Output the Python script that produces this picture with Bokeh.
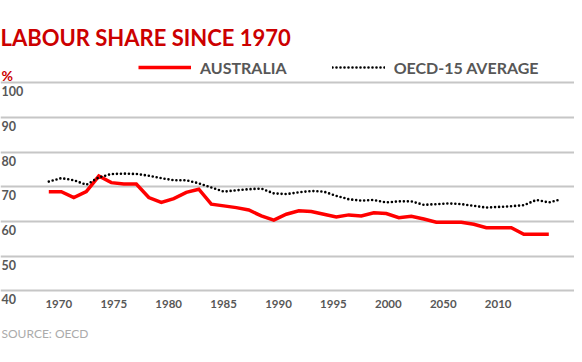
import numpy as np
from bokeh.plotting import figure
from bokeh.models import (ColumnDataSource, Label, LabelSet, Legend, LegendItem,
                          FixedTicker, Range1d, Grid)
from bokeh.core.properties import value
from bokeh.embed import file_html
from bokeh.resources import INLINE

# ---------------- data ----------------
title_text = "LABOUR SHARE SINCE 1970"
unit_text = "%"
source_text = "SOURCE: OECD"
series_names = ["AUSTRALIA", "OECD-15 AVERAGE"]

aus_years = list(range(1970, 2011))
australia = [68.6, 68.6, 66.9, 68.6, 73.1, 71.2, 70.8, 70.8, 66.9, 65.5,
             66.6, 68.4, 69.3, 65.0, 64.5, 64.0, 63.3, 61.6, 60.4, 62.1,
             63.1, 62.9, 62.1, 61.3, 61.9, 61.6, 62.5, 62.3, 61.1, 61.5,
             60.7, 59.8, 59.8, 59.8, 59.2, 58.2, 58.2, 58.2, 56.3, 56.3,
             56.3]

oecd_years = list(range(1970, 2012))
oecd15 = [71.5, 72.5, 71.9, 70.6, 72.7, 73.7, 73.8, 73.7, 73.2, 72.5,
          71.9, 71.9, 71.0, 69.8, 68.6, 69.0, 69.3, 69.5, 68.1, 67.9,
          68.4, 68.8, 68.6, 67.4, 66.4, 66.0, 66.2, 65.5, 65.8, 65.8,
          64.8, 65.0, 65.2, 65.0, 64.5, 64.0, 64.2, 64.4, 64.7, 66.2,
          65.5, 66.4]

y_ticks = [100, 90, 80, 70, 60, 50, 40]
x_tick_labels = ["1970", "1975", "1980", "1985", "1990", "1995", "2000", "2050", "2010"]

# ---------------- layout ----------------
W, H = 574, 354
FONT = "Lato"
RED_TEXT = "#cc0000"
GREY_TEXT = "#575757"

p = figure(width=W, height=H, output_backend="svg", toolbar_location=None,
           x_range=Range1d(1966.136, 2012.056), y_range=Range1d(21.63, 123.74),
           min_border=0, x_axis_type=None, y_axis_type=None)
p.outline_line_color = None
p.background_fill_color = "white"
p.border_fill_color = "white"

p.add_layout(Grid(dimension=1, ticker=FixedTicker(ticks=y_ticks),
                  grid_line_color="#c6c6c6", grid_line_width=2))

r_aus = p.line(aus_years, australia, line_color="#ff0000", line_width=3.5,
               line_join="miter")
r_oecd = p.line(oecd_years, oecd15, line_color="black", line_width=2.6,
                line_dash="0 4", line_cap="round")

# y tick labels (below their gridlines)
ysrc = ColumnDataSource(dict(y=y_ticks, text=[str(t) for t in y_ticks]))
p.add_layout(LabelSet(x=1, y="y", x_units="screen", text="text", source=ysrc,
                      y_offset=-13.5, text_font=value(FONT), text_font_style="bold",
                      text_font_size="12.5px", text_color=GREY_TEXT,
                      text_baseline="alphabetic", text_align="left"))

# x tick labels (evenly spaced under the bottom rule)
x_first = 1970 + 10 / 12.5
x_last = 1970 + 449.4 / 12.5
xsrc = ColumnDataSource(dict(x=np.linspace(x_first, x_last, len(x_tick_labels)),
                             text=x_tick_labels))
p.add_layout(LabelSet(x="x", y=y_ticks[-1], text="text", source=xsrc,
                      y_offset=-17, text_font=value(FONT), text_font_style="bold",
                      text_font_size="11.5px", text_color=GREY_TEXT,
                      text_baseline="alphabetic", text_align="center"))

# title, unit, source
p.add_layout(Label(x=0, y=H - 37.3, x_units="screen", y_units="screen",
                   text=title_text, text_font=FONT, text_font_style="bold",
                   text_font_size="22px", text_color=RED_TEXT,
                   text_baseline="alphabetic"))
p.add_layout(Label(x=1, y=H - 75, x_units="screen", y_units="screen",
                   text=unit_text, text_font=FONT, text_font_style="bold",
                   text_font_size="14px", text_color=RED_TEXT,
                   text_baseline="alphabetic"))
p.add_layout(Label(x=1, y=H - 332.7, x_units="screen", y_units="screen",
                   text=source_text, text_font=FONT, text_font_style="normal",
                   text_font_size="12px", text_color="#ababab",
                   text_baseline="alphabetic"))

legend = Legend(items=[LegendItem(label=series_names[0], renderers=[r_aus]),
                       LegendItem(label=series_names[1], renderers=[r_oecd])],
                orientation="horizontal", location=(138, H - 69.5 - 7),
                glyph_width=53, glyph_height=14, label_height=14,
                label_standoff=9, spacing=45, padding=0, margin=0,
                border_line_color=None, background_fill_alpha=0,
                label_text_font=FONT, label_text_font_style="bold",
                label_text_font_size="16px", label_text_color=GREY_TEXT)
p.add_layout(legend)

open("out.html", "w").write(file_html(p, INLINE))
